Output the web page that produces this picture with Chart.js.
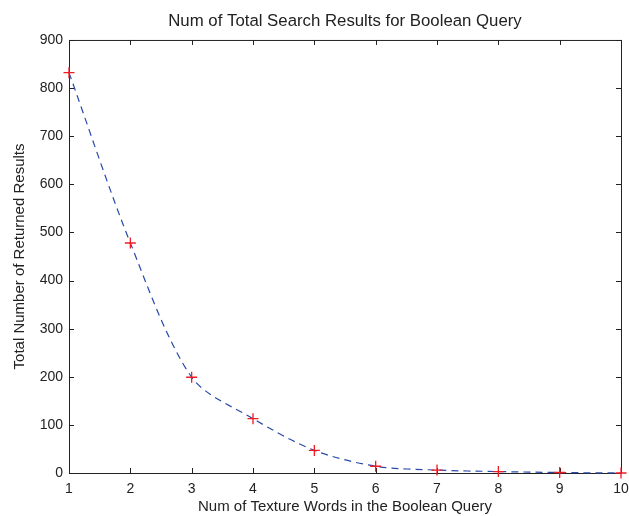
<!DOCTYPE html>
<html>
<head>
<meta charset="utf-8">
<title>Num of Total Search Results for Boolean Query</title>
<script src="https://cdn.jsdelivr.net/npm/chart.js@4/dist/chart.umd.min.js"></script>
<style>
  html, body { margin: 0; padding: 0; background: #fff; }
  canvas { display: block; }
</style>
</head>
<body>
<canvas id="chart" width="629" height="516"></canvas>
<script>
// data
const wordCounts = [1, 2, 3, 4, 5, 6, 7, 8, 9, 10];
const totalResults = [832, 478, 199, 113, 47, 14, 6, 3, 1, 0];
const xTicks = [1, 2, 3, 4, 5, 6, 7, 8, 9, 10];
const yTicks = [0, 100, 200, 300, 400, 500, 600, 700, 800, 900];

const axisColor = "#222";
Chart.defaults.font.family = "'Liberation Sans', Arial, Helvetica, sans-serif";
Chart.defaults.color = axisColor;

// MATLAB style box with ticks pointing inwards on all four sides
const boxTicks = {
  id: "boxTicks",
  beforeDatasetsDraw(chart) {
    const { ctx, chartArea: a, scales } = chart;
    const len = 5;
    ctx.save();
    ctx.strokeStyle = axisColor;
    ctx.lineWidth = 1;
    ctx.strokeRect(a.left + 0.5, a.top + 0.5, a.right - a.left, a.bottom - a.top);
    ctx.beginPath();
    xTicks.forEach((v) => {
      const px = Math.round(scales.x.getPixelForValue(v)) + 0.5;
      ctx.moveTo(px, a.bottom);
      ctx.lineTo(px, a.bottom - len);
      ctx.moveTo(px, a.top);
      ctx.lineTo(px, a.top + len);
    });
    yTicks.forEach((v) => {
      const py = Math.round(scales.y.getPixelForValue(v)) + 0.5;
      ctx.moveTo(a.left, py);
      ctx.lineTo(a.left + len, py);
      ctx.moveTo(a.right, py);
      ctx.lineTo(a.right - len, py);
    });
    ctx.stroke();
    ctx.restore();
  }
};

const ctx = document.getElementById("chart").getContext("2d");
const chart = new Chart(ctx, {
  type: "line",
  data: {
    datasets: [{
      label: "Total results",
      data: wordCounts.map((x, i) => ({ x: x, y: totalResults[i] })),
      borderColor: "#2849a8",
      borderWidth: 1.2,
      borderDash: [7, 5],
      tension: 0.3,
      pointStyle: "cross",
      pointRadius: 5.5,
      pointBorderColor: "#f01c24",
      pointBorderWidth: 1.3,
      pointBackgroundColor: "#f01c24",
      clip: false
    }]
  },
  options: {
    responsive: false,
    animation: false,
    layout: { padding: { left: 0, right: 8, top: 0, bottom: 0 } },
    plugins: {
      legend: { display: false },
      tooltip: { enabled: false },
      title: {
        display: true,
        fullSize: false,
        text: "Num of Total Search Results for Boolean Query",
        font: { size: 16.8, weight: "normal" },
        color: axisColor,
        padding: { top: 11, bottom: 8.8 }
      }
    },
    scales: {
      x: {
        type: "linear",
        min: 1,
        max: 10,
        afterFit: (s) => { s.height = 43; s.paddingLeft = 0; s.paddingRight = 0; },
        afterBuildTicks: (s) => { s.ticks = xTicks.map((v) => ({ value: v })); },
        grid: { display: false, drawTicks: false },
        border: { display: false },
        ticks: { font: { size: 14 }, padding: 8, maxRotation: 0, autoSkip: false },
        title: {
          display: true,
          text: "Num of Texture Words in the Boolean Query",
          font: { size: 15 },
          padding: { top: 0, bottom: 0 }
        }
      },
      y: {
        min: 0,
        max: 900,
        afterFit: (s) => { s.width = 69; s.paddingTop = 0; s.paddingBottom = 0; },
        afterBuildTicks: (s) => { s.ticks = yTicks.map((v) => ({ value: v })); },
        grid: { display: false, drawTicks: false },
        border: { display: false },
        ticks: { font: { size: 14 }, padding: 6 },
        title: {
          display: true,
          text: "Total Number of Returned Results",
          font: { size: 15 },
          padding: { top: 11, bottom: 0 }
        }
      }
    }
  },
  plugins: [boxTicks]
});
</script>
</body>
</html>
